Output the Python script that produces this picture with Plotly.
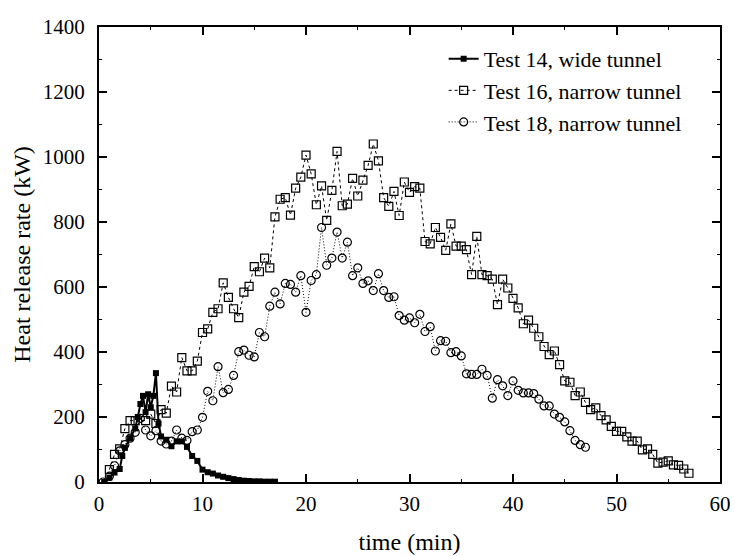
import plotly.graph_objects as go

# Test 14, wide tunnel
t14 = [0.5, 1.0, 1.5, 2.0, 2.25, 2.5, 3.0, 3.5, 3.75, 4.0, 4.25, 4.5, 4.75, 5.0, 5.25, 5.5, 5.75,
       6.0, 6.5, 7.0, 7.5, 8.0, 8.5, 9.0, 9.5, 10.0, 10.5, 11.0, 11.5, 12.0, 12.5, 13.0, 13.5,
       14.0, 14.5, 15.0, 15.5, 16.0, 16.5, 17.0]
q14 = [0, 13, 29, 40, 80, 105, 135, 165, 200, 240, 265, 215, 270, 230, 265, 335, 180,
       140, 130, 110, 125, 125, 108, 80, 65, 38, 30, 26, 20, 16, 12, 9, 6,
       4, 3, 2, 2, 1, 1, 1]

# Test 16, narrow tunnel
t16 = [1.0, 1.5, 2.0, 2.5, 3.0, 3.5, 4.5, 5.0, 5.5, 6.0, 6.5, 7.0, 7.5, 8.0, 8.5, 9.0, 9.5,
       10.0, 10.5, 11.0, 11.5, 12.0, 12.5, 13.0, 13.5, 14.0, 14.5, 15.0, 15.5, 16.0, 16.5,
       17.0, 17.5, 18.0, 18.5, 19.0, 19.5, 20.0, 20.5, 21.0, 21.5, 22.0, 22.5, 23.0, 23.5,
       24.0, 24.5, 25.0, 25.5, 26.0, 26.5, 27.0, 27.5, 28.0, 28.5, 29.0, 29.5, 30.0, 30.5,
       31.0, 31.5, 32.0, 32.5, 33.0, 33.5, 34.0, 34.5, 35.0, 35.5, 36.0, 36.5, 37.0, 37.5,
       38.0, 38.5, 39.0, 39.5, 40.0, 40.5, 41.0, 41.5, 42.0, 42.5, 43.0, 43.5, 44.0, 44.5,
       45.0, 45.5, 46.0, 46.5, 47.0, 47.5, 48.0, 48.5, 49.0, 49.5, 50.0, 50.5, 51.0, 51.5,
       52.0, 52.5, 53.0, 53.5, 54.0, 54.5, 55.0, 55.5, 56.0, 56.5, 57.0]
q16 = [38, 85, 102, 164, 189, 189, 189, 209, 180, 223, 212, 295, 277, 383, 342, 342, 372,
       460, 471, 522, 533, 613, 568, 533, 506, 584, 602, 663, 647, 689, 659,
       816, 870, 875, 821, 904, 938, 1006, 948, 853, 911, 805, 897, 1017, 850,
       855, 934, 880, 929, 974, 1040, 988, 875, 848, 894, 820, 923, 891, 909,
       904, 740, 733, 783, 753, 713, 794, 726, 726, 715, 638, 756, 638, 635,
       624, 546, 624, 597, 565, 536, 487, 498, 473, 447, 417, 392, 403, 361,
       311, 307, 266, 277, 245, 223, 228, 204, 191, 171, 156, 156, 139, 126,
       126, 99, 102, 85, 58, 61, 65, 53, 51, 40, 27]

# Test 18, narrow tunnel
t18 = [0.4, 1.0, 1.5, 2.0, 2.5, 3.0, 3.5, 4.0, 4.5, 5.0, 5.5, 6.0, 6.5, 7.0, 7.5, 8.0, 8.5,
       9.0, 9.5, 10.0, 10.5, 11.0, 11.5, 12.0, 12.5, 13.0, 13.5, 14.0, 14.5, 15.0, 15.5,
       16.0, 16.5, 17.0, 17.5, 18.0, 18.5, 19.0, 19.5, 20.0, 20.5, 21.0, 21.5, 22.0, 22.5,
       23.0, 23.5, 24.0, 24.5, 25.0, 25.5, 26.0, 26.5, 27.0, 27.5, 28.0, 28.5, 29.0, 29.5,
       30.0, 30.5, 31.0, 31.5, 32.0, 32.5, 33.0, 33.5, 34.0, 34.5, 35.0, 35.5, 36.0, 36.5,
       37.0, 37.5, 38.0, 38.5, 39.0, 39.5, 40.0, 40.5, 41.0, 41.5, 42.0, 42.5, 43.0, 43.5,
       44.0, 44.5, 45.0, 45.5, 46.0, 46.5, 47.0]
q18 = [0, 18, 50, 96, 115, 135, 153, 196, 160, 142, 158, 126, 117, 126, 160, 135, 128,
       155, 160, 199, 279, 250, 355, 275, 285, 328, 401, 406, 390, 385, 460,
       447, 541, 584, 548, 611, 608, 584, 635, 522, 620, 638, 783, 667, 689,
       769, 689, 738, 635, 659, 611, 619, 589, 641, 589, 568, 570, 512, 498,
       505, 490, 516, 463, 478, 403, 435, 433, 398, 401, 388, 333, 331, 331,
       347, 328, 258, 315, 296, 266, 311, 282, 274, 274, 272, 255, 234, 234,
       209, 199, 185, 158, 128, 115, 107]

x_ticks = [0, 10, 20, 30, 40, 50, 60]
y_ticks = [0, 200, 400, 600, 800, 1000, 1200, 1400]

FONT = "Liberation Serif, Times New Roman, serif"

fig = go.Figure()
fig.add_trace(go.Scatter(
    x=t14, y=q14, mode="lines+markers", name="Test 14, wide tunnel",
    line=dict(color="black", width=2),
    marker=dict(symbol="square", size=6, color="black"),
))
fig.add_trace(go.Scatter(
    x=t16, y=q16, mode="lines+markers", name="Test 16, narrow tunnel",
    line=dict(color="black", width=1, dash="3px,3px"),
    marker=dict(symbol="square-open", size=8, color="black", line=dict(width=1.2)),
))
fig.add_trace(go.Scatter(
    x=t18, y=q18, mode="lines+markers", name="Test 18, narrow tunnel",
    line=dict(color="black", width=1, dash="1px,2px"),
    marker=dict(symbol="circle-open", size=8, color="black", line=dict(width=1.2)),
))

axis_common = dict(
    showline=True, linecolor="black", linewidth=2, mirror="ticks",
    ticks="inside", ticklen=8, tickwidth=1.5, tickcolor="black",
    showgrid=False, zeroline=False, automargin=False,
    tickfont=dict(family=FONT, size=21, color="black"),
)

fig.update_xaxes(
    range=[0, 60], tickvals=x_ticks, ticklabelstandoff=2,
    title=dict(text="time (min)", font=dict(family=FONT, size=24, color="black"), standoff=18),
    minor=dict(dtick=5, tick0=0, ticks="inside", ticklen=3, tickcolor="black", tickwidth=1.2, showgrid=False),
    **axis_common,
)
fig.update_yaxes(
    range=[0, 1400], tickvals=y_ticks, ticklabelstandoff=8,
    title=dict(text="Heat release rate (kW)", font=dict(family=FONT, size=24, color="black"), standoff=5),
    minor=dict(dtick=100, tick0=0, ticks="inside", ticklen=3, tickcolor="black", tickwidth=1.2, showgrid=False),
    **axis_common,
)

fig.update_layout(
    width=734, height=556,
    margin=dict(l=99, r=14, t=27, b=74),
    paper_bgcolor="white", plot_bgcolor="white",
    showlegend=True,
    legend=dict(
        x=0.555, y=0.976, xanchor="left", yanchor="top",
        bgcolor="rgba(0,0,0,0)", borderwidth=0,
        font=dict(family=FONT, size=22, color="black"),
        tracegroupgap=0, itemwidth=30,
    ),
    font=dict(family=FONT, color="black"),
)

fig.write_html("out.html")
